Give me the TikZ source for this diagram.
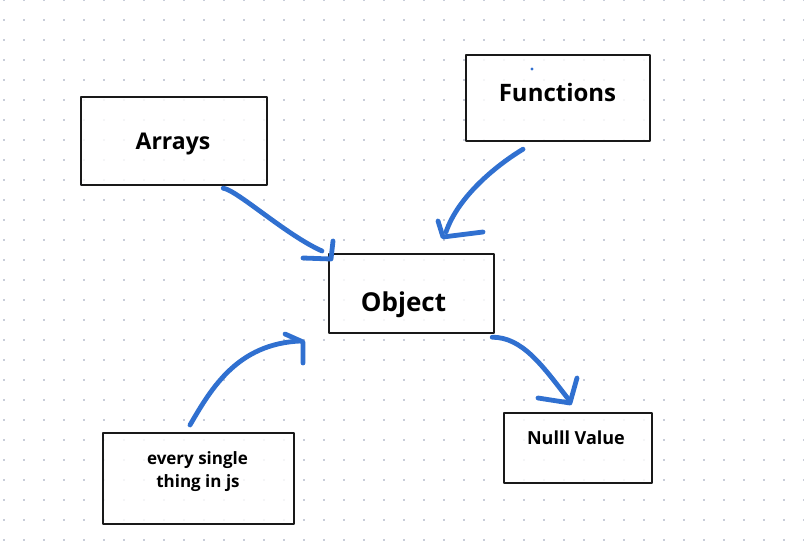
\documentclass[tikz,border=0pt]{standalone}
\usepackage{fontspec}
\setmainfont{Open Sans}
\usetikzlibrary{calc}
\definecolor{dotgrey}{RGB}{200,205,217}
\definecolor{penblue}{RGB}{48,112,208}
\begin{document}
\begin{tikzpicture}[x=1pt,y=-1pt,
  box/.style={draw=black!90, line width=2.2pt, fill=white, fill opacity=0.8, draw opacity=1,
    rectangle, anchor=north west, inner sep=0pt, line join=round},
  lbl/.style={anchor=base, inner sep=0pt, text=black, font=\bfseries},
  pen/.style={draw=penblue, line width=4.8pt, line cap=round, line join=round},
  penhead/.style={draw=penblue, line width=4.8pt, line cap=round, line join=round}
]
\useasboundingbox (0,0) rectangle (804,552);
\fill[white] (0,0) rectangle (804,552);
% dot grid
\foreach \i in {0,...,40}{
  \foreach \j in {0,...,27}{
    \fill[dotgrey] ({4+20*\i-1},{20*\j-1}) rectangle ({4+20*\i+1},{20*\j+1});
  }
}
% boxes
\node[box, minimum width=186pt, minimum height=88pt] (arrays) at (80,96) {};
\node[box, minimum width=184pt, minimum height=86pt] (functions) at (465,54) {};
\node[box, minimum width=165pt, minimum height=79pt] (object) at (328,253) {};
\node[box, minimum width=148pt, minimum height=70pt] (nullv) at (503,412) {};
\node[box, minimum width=191pt, minimum height=91pt] (every) at (102,432) {};
% labels
\node[lbl, font=\bfseries\fontsize{23}{27}\selectfont] (arraysT) at (173,149) {Arrays};
\node[lbl, font=\bfseries\fontsize{24}{28}\selectfont] (functionsT) at (557.5,101) {Functions};
\node[lbl, font=\bfseries\fontsize{26}{30}\selectfont] (objectT) at (403.5,311) {Object};
\node[lbl, font=\bfseries\fontsize{18}{22}\selectfont] (nullT) at (576,444) {Nulll Value};
\node[lbl, font=\bfseries\fontsize{17}{22}\selectfont] (everyT1) at (197.5,464) {every single};
\node[lbl, font=\bfseries\fontsize{17}{22}\selectfont] (everyT2) at (198,487) {thing in js};
% stray pen dot
\fill[penblue] (532,69) circle (1.6);
% connectors
\coordinate (a1s) at ([shift={(-45,2)}]arrays.south east);
\coordinate (a1t) at ([shift={(3,6)}]object.north west);
\draw[pen] (a1s) .. controls ($(a1s)+(14,2)$) and ($(a1t)+(-45,-24)$) .. ($(a1t)+(-9,-8)$);
\draw[penhead] ($(a1t)+(-28,-1)$) -- (a1t) -- ($(a1t)+(2,-18)$);

\coordinate (a2s) at ([shift={(58,7)}]functions.south west);
\coordinate (a2t) at ([shift={(115,-16)}]object.north west);
\draw[pen] (a2s) .. controls ($(a2s)+(-28,17)$) and ($(a2t)+(15,-40)$) .. ($(a2t)+(3,-5)$);
\draw[penhead] ($(a2t)+(-5,-16)$) -- (a2t) -- ($(a2t)+(40,-5)$);

\coordinate (a3s) at ([shift={(88,-7)}]every.north west);
\coordinate (a3t) at ([shift={(-25,89)}]object.north west);
\draw[pen] (a3s) .. controls ($(a3s)+(22,-38)$) and ($(a3t)+(-65,2)$) .. ($(a3t)+(-3,-1)$);
\draw[penhead] ($(a3t)+(-18,-8)$) -- (a3t) -- ($(a3t)+(0,21)$);

\coordinate (a4s) at ([shift={(-3,3)}]object.south east);
\coordinate (a4t) at ([shift={(67,-9)}]nullv.north west);
\draw[pen] (a4s) .. controls ($(a4s)+(30,0)$) and ($(a4t)+(-28,-38)$) .. ($(a4t)+(-1,-3)$);
\draw[penhead] ($(a4t)+(-32,-5)$) -- (a4t) -- ($(a4t)+(7,-25)$);
\end{tikzpicture}
\end{document}
